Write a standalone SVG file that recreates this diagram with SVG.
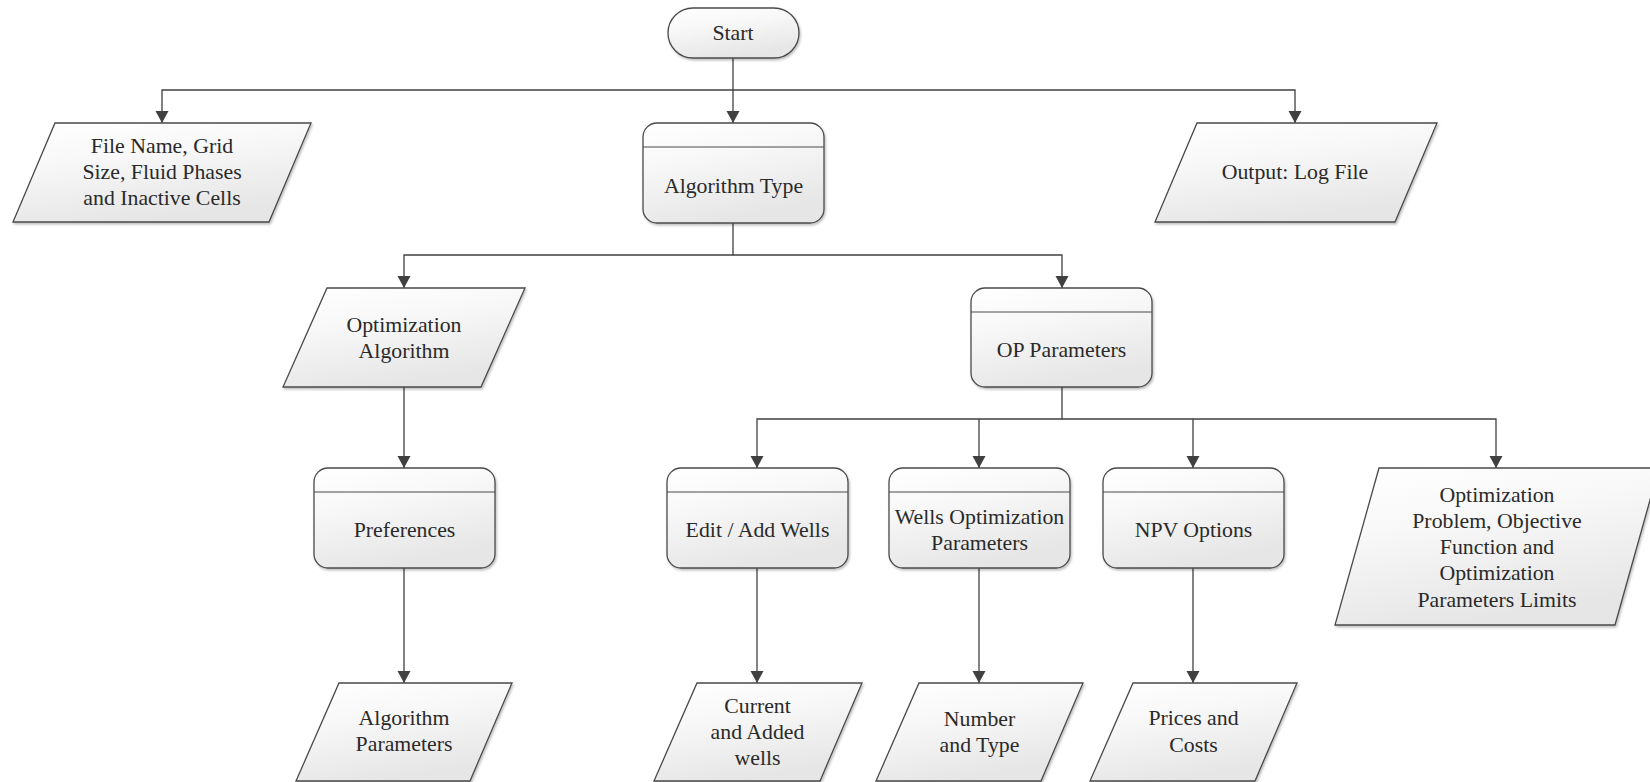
<svg xmlns="http://www.w3.org/2000/svg" width="1650" height="782" viewBox="0 0 1650 782">
  <style>
    .shape { fill: url(#fillGrad); stroke: #4a4a4a; stroke-width: 1.3; filter: url(#shadow); }
    .hdr { stroke: #4a4a4a; stroke-width: 1.2; fill: none; }
    .lbl { font-family: "Liberation Serif", "Times New Roman", serif; font-size: 21.8px; fill: #2a2a2a; text-anchor: middle; }
    .conn { fill: none; stroke: #404040; stroke-width: 1.3; }
  </style>
  <defs>
    <linearGradient id="fillGrad" x1="0" y1="0" x2="0.35" y2="1">
      <stop offset="0" stop-color="#ffffff"/>
      <stop offset="0.4" stop-color="#f8f8f8"/>
      <stop offset="1" stop-color="#e6e6e6"/>
    </linearGradient>
    <filter id="shadow" x="-10%" y="-10%" width="125%" height="130%">
      <feDropShadow dx="1.2" dy="1.8" stdDeviation="1.2" flood-color="#000" flood-opacity="0.25"/>
    </filter>
    <marker id="arrow" markerWidth="14" markerHeight="14" refX="12" refY="6.5" orient="auto" markerUnits="userSpaceOnUse">
      <path d="M0,0 L12,6.5 L0,13 Z" fill="#404040"/>
    </marker>
  </defs>

  <rect width="1650" height="782" fill="#ffffff"/>

  <!-- connectors -->
  <g id="connectors">
    <path class="conn" d="M733,58 V123" marker-end="url(#arrow)"/>
    <path class="conn" d="M733,90 H162 V123" marker-end="url(#arrow)"/>
    <path class="conn" d="M733,90 H1295 V123" marker-end="url(#arrow)"/>

    <path class="conn" d="M733,223 V255 H404 V288" marker-end="url(#arrow)"/>
    <path class="conn" d="M733,255 H1062 V288" marker-end="url(#arrow)"/>

    <path class="conn" d="M404,387 V468" marker-end="url(#arrow)"/>

    <path class="conn" d="M1062,387 V419 H757 V468" marker-end="url(#arrow)"/>
    <path class="conn" d="M979,419 V468" marker-end="url(#arrow)"/>
    <path class="conn" d="M1062,419 H1193 V468" marker-end="url(#arrow)"/>
    <path class="conn" d="M1193,419 H1496 V468" marker-end="url(#arrow)"/>

    <path class="conn" d="M404,568 V683" marker-end="url(#arrow)"/>
    <path class="conn" d="M757,568 V683" marker-end="url(#arrow)"/>
    <path class="conn" d="M979,568 V683" marker-end="url(#arrow)"/>
    <path class="conn" d="M1193,568 V683" marker-end="url(#arrow)"/>
  </g>

  <!-- top level -->
  <g id="start">
    <rect class="shape" x="668" y="8" width="131" height="50" rx="25" ry="25"/>
    <text class="lbl" x="733" y="40">Start</text>
  </g>

  <g id="file-name">
    <polygon class="shape" points="55,123 311,123 269,222 13,222"/>
    <text class="lbl" x="162" y="153">File Name, Grid</text>
    <text class="lbl" x="162" y="179">Size, Fluid Phases</text>
    <text class="lbl" x="162" y="205">and Inactive Cells</text>
  </g>

  <g id="algorithm-type">
    <rect class="shape" x="643" y="123" width="181" height="100" rx="14" ry="14"/>
    <line class="hdr" x1="643" y1="147" x2="824" y2="147"/>
    <text class="lbl" x="733.5" y="192.5">Algorithm Type</text>
  </g>

  <g id="output-log">
    <polygon class="shape" points="1197,123 1437,123 1395,222 1155,222"/>
    <text class="lbl" x="1295" y="179">Output: Log File</text>
  </g>

  <!-- second level -->
  <g id="optimization-algorithm">
    <polygon class="shape" points="327,288 525,288 481,387 283,387"/>
    <text class="lbl" x="404" y="331.5">Optimization</text>
    <text class="lbl" x="404" y="357.5">Algorithm</text>
  </g>

  <g id="op-parameters">
    <rect class="shape" x="971" y="288" width="181" height="99" rx="14" ry="14"/>
    <line class="hdr" x1="971" y1="312" x2="1152" y2="312"/>
    <text class="lbl" x="1061.5" y="357">OP Parameters</text>
  </g>

  <!-- third level -->
  <g id="preferences">
    <rect class="shape" x="314" y="468" width="181" height="100" rx="14" ry="14"/>
    <line class="hdr" x1="314" y1="492" x2="495" y2="492"/>
    <text class="lbl" x="404.5" y="537">Preferences</text>
  </g>

  <g id="edit-add-wells">
    <rect class="shape" x="667" y="468" width="181" height="100" rx="14" ry="14"/>
    <line class="hdr" x1="667" y1="492" x2="848" y2="492"/>
    <text class="lbl" x="757.5" y="537">Edit / Add Wells</text>
  </g>

  <g id="wells-optimization-parameters">
    <rect class="shape" x="889" y="468" width="181" height="100" rx="14" ry="14"/>
    <line class="hdr" x1="889" y1="492" x2="1070" y2="492"/>
    <text class="lbl" x="979.5" y="524">Wells Optimization</text>
    <text class="lbl" x="979.5" y="550">Parameters</text>
  </g>

  <g id="npv-options">
    <rect class="shape" x="1103" y="468" width="181" height="100" rx="14" ry="14"/>
    <line class="hdr" x1="1103" y1="492" x2="1284" y2="492"/>
    <text class="lbl" x="1193.5" y="537">NPV Options</text>
  </g>

  <g id="optimization-problem">
    <polygon class="shape" points="1379,468 1659,468 1615,625 1335,625"/>
    <text class="lbl" x="1497" y="501.5">Optimization</text>
    <text class="lbl" x="1497" y="527.8">Problem, Objective</text>
    <text class="lbl" x="1497" y="554">Function and</text>
    <text class="lbl" x="1497" y="580.3">Optimization</text>
    <text class="lbl" x="1497" y="606.5">Parameters Limits</text>
  </g>

  <!-- bottom level -->
  <g id="algorithm-parameters">
    <polygon class="shape" points="339,683 512,683 470,781 296,781"/>
    <text class="lbl" x="404" y="725">Algorithm</text>
    <text class="lbl" x="404" y="751">Parameters</text>
  </g>

  <g id="current-added-wells">
    <polygon class="shape" points="697,683 862,683 820,781 654,781"/>
    <text class="lbl" x="757.5" y="713">Current</text>
    <text class="lbl" x="757.5" y="739">and Added</text>
    <text class="lbl" x="757.5" y="765">wells</text>
  </g>

  <g id="number-type">
    <polygon class="shape" points="919,683 1083,683 1041,781 876,781"/>
    <text class="lbl" x="979.5" y="726">Number</text>
    <text class="lbl" x="979.5" y="752">and Type</text>
  </g>

  <g id="prices-costs">
    <polygon class="shape" points="1133,683 1297,683 1255,781 1090,781"/>
    <text class="lbl" x="1193.5" y="725">Prices and</text>
    <text class="lbl" x="1193.5" y="752">Costs</text>
  </g>
</svg>
